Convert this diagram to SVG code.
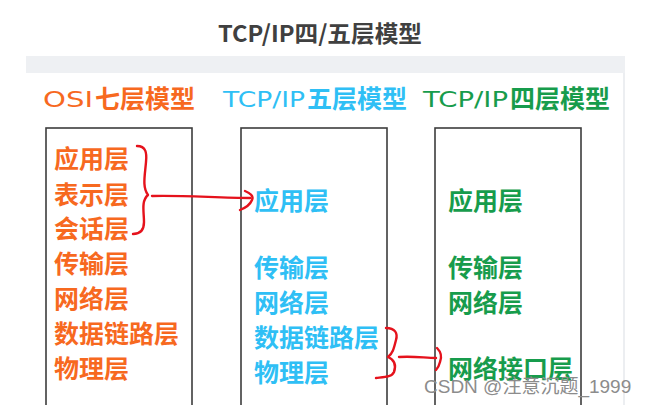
<svg xmlns="http://www.w3.org/2000/svg" width="648" height="405" viewBox="0 0 648 405">
<style>
.cjk{font-family:"Noto Sans CJK SC","Liberation Sans",sans-serif;font-weight:bold;font-size:25px}
.hw{font-family:"DejaVu Sans","Liberation Sans",sans-serif;font-weight:normal;font-size:21px}
.org{fill:#f7691f}
.blu{fill:#2fbff5}
.grn{fill:#179c4c}
.box{fill:none;stroke:#3d3d3d;stroke-width:1.6}
.red{fill:none;stroke:#e5121c;stroke-width:2.4;stroke-linecap:round;stroke-linejoin:round}
</style>
<rect width="648" height="405" fill="#ffffff"/>
<g id="title">
<text x="320" y="42" text-anchor="middle" font-family="'Noto Sans CJK SC','Liberation Sans',sans-serif" font-weight="bold" font-size="23" fill="#404040" textLength="204" lengthAdjust="spacingAndGlyphs">TCP/IP四/五层模型</text>
</g>
<g id="frame">
<rect x="26" y="56" width="599" height="17" fill="#eef0f3"/>
<line x1="624" y1="73" x2="624" y2="405" stroke="#eceef1" stroke-width="2"/>
</g>
<g id="header-osi">
<text class="hw org" x="43" y="107" textLength="50" lengthAdjust="spacingAndGlyphs">OSI</text>
<text class="cjk org" x="95" y="108" font-size="24">七层模型</text>
</g>
<g id="header-tcp5">
<text class="hw blu" x="223" y="107" textLength="82" lengthAdjust="spacingAndGlyphs">TCP/IP</text>
<text class="cjk blu" x="307" y="108">五层模型</text>
</g>
<g id="header-tcp4">
<text class="hw grn" x="423" y="107" textLength="85" lengthAdjust="spacingAndGlyphs">TCP/IP</text>
<text class="cjk grn" x="510" y="108">四层模型</text>
</g>
<g id="box-osi">
<rect class="box" x="46" y="128" width="146" height="290"/>
<text class="cjk org" x="54" y="168">应用层</text>
<text class="cjk org" x="54" y="204">表示层</text>
<text class="cjk org" x="54" y="238">会话层</text>
<text class="cjk org" x="54" y="273">传输层</text>
<text class="cjk org" x="54" y="308">网络层</text>
<text class="cjk org" x="54" y="343">数据链路层</text>
<text class="cjk org" x="54" y="378">物理层</text>
</g>
<g id="box-tcp5">
<rect class="box" x="241" y="128" width="146" height="290"/>
<text class="cjk blu" x="254" y="210">应用层</text>
<text class="cjk blu" x="254" y="277">传输层</text>
<text class="cjk blu" x="254" y="312">网络层</text>
<text class="cjk blu" x="254" y="347">数据链路层</text>
<text class="cjk blu" x="254" y="382">物理层</text>
</g>
<g id="box-tcp4">
<rect class="box" x="435" y="128" width="146" height="290"/>
<text class="cjk grn" x="448" y="210">应用层</text>
<text class="cjk grn" x="448" y="277">传输层</text>
<text class="cjk grn" x="448" y="312">网络层</text>
<text class="cjk grn" x="448" y="378">网络接口层</text>
</g>
<g id="connectors">
<path class="red" d="M137,146 C146,146 147,153 146,162 C145,175 142,187 148,195 C141,201 144,212 144,222 C144,230 140,234 133,234"/>
<path class="red" d="M152,196 C180,195 220,198 250,198"/>
<path class="red" d="M245,191 C250,193 254,196 252,200 C250,205 245,208 240,210"/>
<path class="red" d="M386,328 C395,328 398,333 396,340 C394,348 393,353 388,357 C395,360 396,366 394,372 C392,377 385,377 376,378"/>
<path class="red" d="M399,357 C415,356 425,358 436,358"/>
<path class="red" d="M437,348 C441,352 442,357 440,362 C439,366 438,368 436,370"/>
</g>
<g id="watermark">
<text x="424" y="393" font-family="'Liberation Sans','Noto Sans CJK SC',sans-serif" font-size="19" fill="#8c8c8c">CSDN @注意沉题_1999</text>
</g>
</svg>
